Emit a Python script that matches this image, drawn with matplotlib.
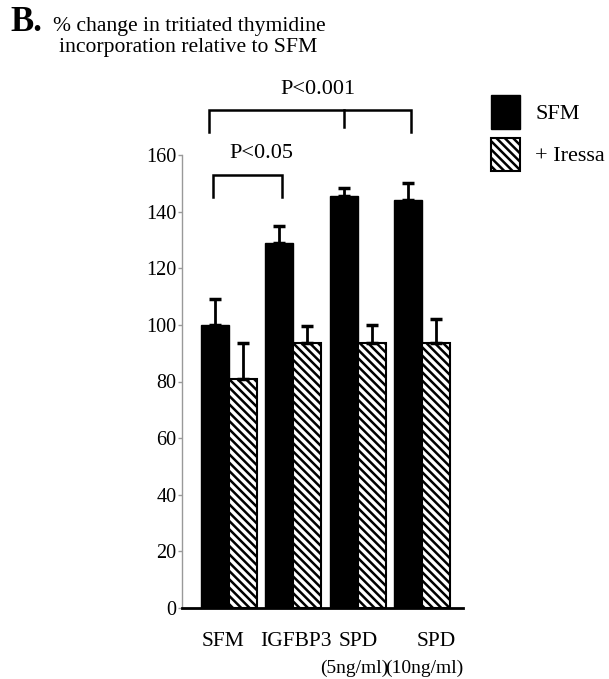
import matplotlib
matplotlib.use("Agg")
import matplotlib.pyplot as plt
import matplotlib.transforms as mtransforms
import numpy as np

categories = ["SFM", "IGFBP3", "SPD\n(5ng/ml)", "SPD\n(10ng/ml)"]
sfm_values = [100, 129, 145.5, 144]
sfm_errors = [9, 6, 3, 6]
iressa_values = [81, 93.5, 93.5, 93.5]
iressa_errors = [12.5, 6, 6.5, 8.5]
series_labels = ["SFM", "+ Iressa"]
yticks = [0, 20, 40, 60, 80, 100, 120, 140, 160]

plt.rcParams['font.family'] = ['Liberation Serif', 'DejaVu Serif']
plt.rcParams['hatch.linewidth'] = 1.8

fig = plt.figure(figsize=(6.09, 6.79), dpi=100)
ax = fig.add_axes([182/609, 1-608/679, (463-182)/609, (608-155)/679])

x = np.arange(len(categories))
w = 0.435
ax.bar(x - w/2, sfm_values, w, color='black', edgecolor='black', linewidth=1,
       label=series_labels[0])
ax.bar(x + w/2, iressa_values, w, color='white', edgecolor='black', linewidth=1.5,
       hatch='\\\\\\\\', label=series_labels[1])
ax.errorbar(x - w/2, sfm_values, yerr=[np.zeros(4), sfm_errors], fmt='none',
            ecolor='black', elinewidth=2, capsize=4, capthick=2.5)
ax.errorbar(x + w/2, iressa_values, yerr=[np.zeros(4), iressa_errors], fmt='none',
            ecolor='black', elinewidth=2, capsize=4, capthick=2.5)

ax.set_xlim(-0.73, 3.64)
ax.set_ylim(0, 160)
ax.set_yticks(yticks)
ax.set_xticks(x)
first_lines = [c.split("\n")[0] for c in categories]
ax.set_xticklabels(first_lines, fontsize=15.5)
ax.tick_params(axis='x', length=0, pad=17)
ax.tick_params(axis='y', length=3, width=1, color='#999999', pad=1, labelsize=14.5)

# shift individual first-line labels a little, as in the reference
shifts_px = [-6, 3, 1, 14]
for lab, dx in zip(ax.get_xticklabels(), shifts_px):
    lab.set_transform(lab.get_transform() +
                      mtransforms.ScaledTranslation(dx/100, 0, fig.dpi_scale_trans))

# second lines of the category labels
trans = mtransforms.blended_transform_factory(ax.transData, ax.transAxes)
second_offsets = [0, 0, -0.05, 0.03]
for xi, c, off in zip(x, categories, second_offsets):
    parts = c.split("\n")
    if len(parts) > 1:
        ax.text(xi + off, -0.1425, parts[1], transform=trans, ha='center',
                va='baseline', fontsize=14)

for s in ['top', 'right']:
    ax.spines[s].set_visible(False)
ax.spines['left'].set_color('#999999')
ax.spines['left'].set_linewidth(1)
ax.spines['bottom'].set_color('black')
ax.spines['bottom'].set_linewidth(2)

# significance brackets
def bracket(x0, x1, y, ylow, label, xtext, ytext, mid=None):
    ax.plot([x0, x0, x1, x1], [ylow, y, y, ylow], color='black', lw=1.8,
            clip_on=False, solid_joinstyle='miter')
    if mid is not None:
        ax.plot([mid, mid], [y, y - 6], color='black', lw=1.8, clip_on=False)
    ax.text(xtext, ytext, label, ha='center', va='baseline',
            fontsize=16, clip_on=False)

bracket(-0.31, 2.83, 176, 168, "P<0.001", 1.38, 181.5, mid=1.79)
bracket(-0.25, 0.83, 153, 145, "P<0.05", 0.51, 159)

# titles
fig.text(10/609, 1-31/679, "B.", fontsize=25, fontweight='bold', va='baseline')
fig.text(189.5/609, 1-31/679, "% change in tritiated thymidine", fontsize=15.6,
         ha='center', va='baseline')
fig.text(188.5/609, 1-52/679, "incorporation relative to SFM", fontsize=15.6,
         ha='center', va='baseline')

leg = ax.legend(loc='upper left', bbox_to_anchor=(491/609, 1-95/679),
                bbox_transform=fig.transFigure, frameon=False, fontsize=16,
                borderpad=0, borderaxespad=0, handlelength=1.3,
                handleheight=1.95, handletextpad=0.7, labelspacing=0.4)

fig.savefig("out.png", dpi=100)
